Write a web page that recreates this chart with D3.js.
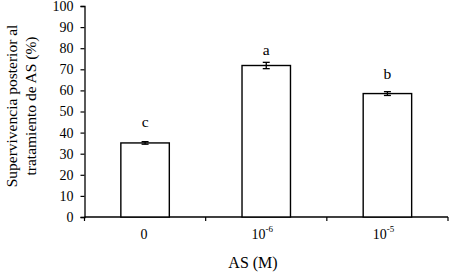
<!DOCTYPE html>
<html>
<head>
<meta charset="utf-8">
<script src="https://cdn.jsdelivr.net/npm/d3@7.9.0/dist/d3.min.js"></script>
<style>
  body { margin: 0; background: #fff; }
  svg text { font-family: "Liberation Serif", "Times New Roman", serif; fill: #000; }
</style>
</head>
<body>
<svg id="chart" width="450" height="272"></svg>
<script>
const categories = ['0', '10-6', '10-5'];
const tickBase = ['0', '10', '10'];
const tickExp = ['', '-6', '-5'];
const values = [35.1, 71.8, 58.5];
const errors = [0.6, 1.5, 0.9];
const letters = ['c', 'a', 'b'];
const letterY = [42.8, 76.9, 65.3];
const yTicks = [0, 10, 20, 30, 40, 50, 60, 70, 80, 90, 100];

const svg = d3.select('#chart');
const m = { left: 84.5, right: 2, top: 6, bottom: 55 };
const W = 450, H = 272;

const x = d3.scaleBand().domain(categories).range([m.left, W - m.right]).paddingInner(0.6).paddingOuter(0.3);
const xb = d3.scaleBand().domain(categories).range([m.left, W - m.right]);
const y = d3.scaleLinear().domain([0, 100]).range([H - m.bottom, m.top]);

// y axis
const yAxis = svg.append('g')
  .attr('transform', `translate(${m.left},0)`)
  .call(d3.axisLeft(y).tickValues(yTicks).tickSize(4).tickPadding(7))
  .attr('font-family', null).attr('font-size', null);
yAxis.select('.domain').attr('stroke', '#000').attr('stroke-width', 1.3);
yAxis.selectAll('.tick line').attr('stroke', '#000').attr('stroke-width', 1.2);
yAxis.selectAll('.tick text').style('font-size', '14px');

// x axis: ticks at category boundaries
const bounds = categories.map(c => xb(c)).concat([W - m.right]);
const xAxis = svg.append('g').attr('transform', `translate(0,${y(0)})`);
xAxis.append('line').attr('x1', m.left).attr('x2', W - m.right)
  .attr('stroke', '#000').attr('stroke-width', 1.3);
xAxis.selectAll('line.tk').data(bounds).enter().append('line')
  .attr('class', 'tk')
  .attr('x1', d => d).attr('x2', d => d).attr('y1', 0).attr('y2', 4)
  .attr('stroke', '#000').attr('stroke-width', 1.2);

// x tick labels (base + superscript exponent)
const xl = svg.selectAll('text.xl').data(categories).enter().append('text')
  .attr('class', 'xl')
  .attr('x', (d, i) => xb(d) + xb.bandwidth() / 2 - (tickExp[i] ? 4 : 1))
  .attr('y', 238.5)
  .attr('text-anchor', 'middle')
  .style('font-size', '14px');
xl.append('tspan').text((d, i) => tickBase[i]);
xl.append('tspan').text((d, i) => tickExp[i])
  .attr('dy', '-7').style('font-size', '9px');

// bars
svg.selectAll('rect.bar').data(values).enter().append('rect')
  .attr('class', 'bar')
  .attr('x', (d, i) => x(categories[i]))
  .attr('y', d => y(d))
  .attr('width', x.bandwidth())
  .attr('height', d => y(0) - y(d))
  .attr('fill', '#fff')
  .attr('stroke', '#000')
  .attr('stroke-width', 1.4);

// error bars
const eb = svg.selectAll('g.err').data(values).enter().append('g')
  .attr('class', 'err')
  .attr('transform', (d, i) => `translate(${x(categories[i]) + x.bandwidth() / 2},0)`);
eb.append('line')
  .attr('y1', (d, i) => y(d + errors[i])).attr('y2', (d, i) => y(d - errors[i]))
  .attr('stroke', '#000').attr('stroke-width', 1.3);
eb.append('line').attr('x1', -3.5).attr('x2', 3.5)
  .attr('y1', (d, i) => y(d + errors[i])).attr('y2', (d, i) => y(d + errors[i]))
  .attr('stroke', '#000').attr('stroke-width', 1.3);
eb.append('line').attr('x1', -3.5).attr('x2', 3.5)
  .attr('y1', (d, i) => y(d - errors[i])).attr('y2', (d, i) => y(d - errors[i]))
  .attr('stroke', '#000').attr('stroke-width', 1.3);

// significance letters
svg.selectAll('text.lt').data(letters).enter().append('text')
  .attr('class', 'lt')
  .attr('x', (d, i) => x(categories[i]) + x.bandwidth() / 2)
  .attr('y', (d, i) => y(letterY[i]))
  .attr('text-anchor', 'middle')
  .style('font-size', '15.5px')
  .text(d => d);

// axis titles
svg.append('text')
  .attr('x', 253).attr('y', 268)
  .attr('text-anchor', 'middle').style('font-size', '16px')
  .text('AS (M)');

const yt = svg.append('text')
  .attr('transform', 'translate(0,106) rotate(-90)')
  .attr('text-anchor', 'middle').style('font-size', '15.5px');
yt.append('tspan').attr('x', 0).attr('y', 17).text('Supervivencia posterior al');
yt.append('tspan').attr('x', 0).attr('y', 36).text('tratamiento de AS (%)');
</script>
</body>
</html>
